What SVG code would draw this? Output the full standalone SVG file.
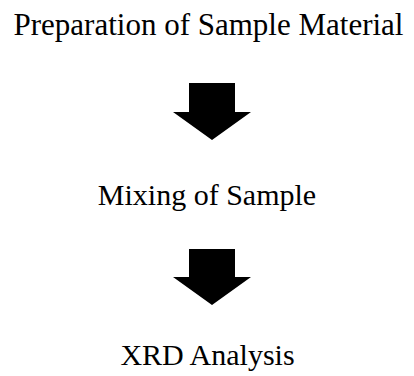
<svg xmlns="http://www.w3.org/2000/svg" width="414" height="376" viewBox="0 0 414 376">
<style>
.t{font-family:"Liberation Serif","Times New Roman",serif;font-size:30px;fill:#000;text-anchor:middle}
.a{fill:#000}
</style>
<rect width="414" height="376" fill="#fff"/>
<g id="n1"><text class="t" x="208.5" y="35" style="font-size:31px">Preparation of Sample Material</text></g>
<g id="n2"><text class="t" x="207" y="205">Mixing of Sample</text></g>
<g id="n3"><text class="t" x="207.5" y="365">XRD Analysis</text></g>
<g id="connectors">
<polygon class="a" points="189,83 235,83 235,112 251,112 212,140 173,112 189,112"/>
<polygon class="a" points="189,249 235,249 235,277 251,277 212,305 173,277 189,277"/>
</g>
</svg>
